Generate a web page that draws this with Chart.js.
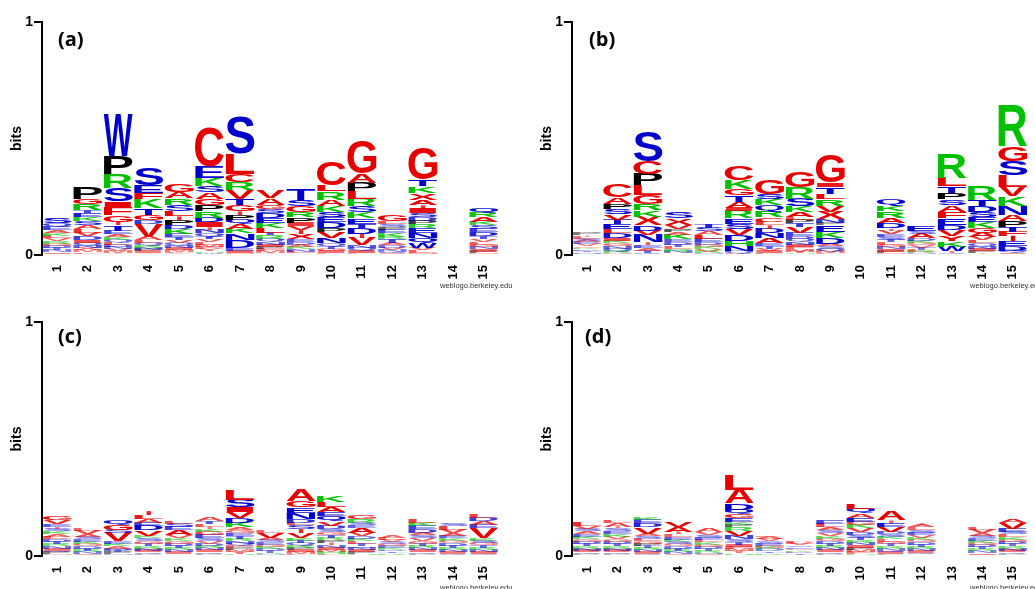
<!DOCTYPE html>
<html><head><meta charset="utf-8">
<script src="https://cdn.jsdelivr.net/npm/chart.js@4.4.1/dist/chart.umd.min.js"></script>
<style>
html,body{margin:0;padding:0;background:#fff;width:1035px;height:589px;overflow:hidden;position:relative;}
canvas{position:absolute;}
.lbl{position:absolute;font:bold 20px "Open Sans",sans-serif;line-height:20px;color:#000;}
.wl{position:absolute;font:7.5px "Liberation Sans",Arial,sans-serif;line-height:7.5px;color:#333;white-space:nowrap;}
</style></head><body>
<canvas id="ca" width="517" height="296" style="left:0;top:0"></canvas>
<canvas id="cb" width="520" height="296" style="left:515px;top:0"></canvas>
<canvas id="cc" width="517" height="293" style="left:0;top:296px"></canvas>
<canvas id="cd" width="520" height="293" style="left:515px;top:296px"></canvas>
<div class="lbl" style="left:58px;top:29px">(a)</div>
<div class="lbl" style="left:589px;top:29px">(b)</div>
<div class="lbl" style="left:58px;top:326px">(c)</div>
<div class="lbl" style="left:585px;top:326px">(d)</div>
<div class="wl" style="left:440px;top:282px">weblogo.berkeley.edu</div>
<div class="wl" style="left:970px;top:282px">weblogo.berkeley.edu</div>
<div class="wl" style="left:440px;top:584px">weblogo.berkeley.edu</div>
<div class="wl" style="left:970px;top:584px">weblogo.berkeley.edu</div>
<script>
// ---- data (letters listed top -> bottom, heights in bits, same order) ----
const positions = ['1','2','3','4','5','6','7','8','9','10','11','12','13','14','15'];
const yTicks = [0, 1];

const lettersA = ['SQEAKLVRGDTNIP','PGRTEKSALVDIQNXMFY','WPRSIFG.TEAKQLDNVMY','SEFKTGDVALQRNPIY','GARSL.PDKETVQNIMFY',
  'CEKSAGPRDI.NQTVLMFYHW','SLCRVTG.PQAKNDEIM','VAGSDEKLTRQNIPFMY','TSGRPIV.XEDAKNLQ','CLRAKSEDPVNQTGIF',
  'GAPLRSKETD.VNQIF','GLSPEKRTADVNQI','GTKXA.ISDPRENQWVLM','','QRAKSEDTVLGNIPM'];
const bitsA = [
  [.022,.014,.014,.013,.012,.012,.011,.011,.010,.010,.009,.008,.007,.005],
  [.049,.022,.026,.013,.018,.017,.018,.016,.016,.015,.014,.013,.012,.011,.010,.008,.007,.005],
  [.18,.08,.058,.058,.026,.032,.028,.016,.022,.014,.013,.012,.011,.011,.010,.009,.009,.008,.008],
  [.075,.034,.027,.036,.03,.024,.015,.055,.014,.012,.011,.010,.009,.008,.008,.007],
  [.032,.029,.028,.025,.022,.016,.022,.018,.02,.014,.013,.012,.011,.01,.009,.008,.007,.008],
  [.168,.05,.031,.03,.027,.027,.027,.027,.02,.019,.012,.015,.014,.013,.012,.011,.01,.009,.008,.007,.01],
  [.158,.088,.033,.035,.037,.027,.027,.015,.022,.02,.019,.019,.028,.035,.012,.01,.008],
  [.033,.028,.018,.019,.021,.02,.022,.02,.012,.014,.013,.012,.011,.01,.009,.008,.007],
  [.048,.025,.025,.021,.023,.015,.018,.017,.021,.012,.011,.011,.01,.009,.008,.007],
  [.1,.025,.035,.027,.027,.022,.019,.026,.017,.029,.021,.012,.011,.01,.009,.008],
  [.142,.041,.038,.03,.03,.03,.025,.022,.018,.026,.017,.033,.012,.011,.01,.008],
  [.03,.012,.012,.011,.014,.016,.012,.014,.011,.01,.009,.008,.008,.007],
  [.137,.03,.03,.027,.023,.016,.019,.018,.015,.015,.017,.019,.021,.021,.021,.012,.011,.009],
  [],
  [.02,.019,.019,.015,.015,.015,.017,.012,.012,.011,.011,.01,.009,.008,.007]
];

const lettersB = ['P.LSAEVGKDTNR','CAPSVTELDIKGNQRM','SCPLGRKXDVN.EATQ','SXVPAKEDTLRNQ','TSALEDGKVRN',
  'CKGTAIRESVDHNQL','GSKQRCL.DNAETVIP','GRSKALPTVEDQNIFMYH','GITLRVXNPEKDASQMF','',
  'QKRAD.VESTLGNIPM','ESADKGVTLRN','RLTPSAFEDVYKW.Q','RTDSEKGAVLQNIP.','RGSLVKNAPTF.EDQI'];
const bitsB = [
  [.008,.006,.009,.008,.008,.008,.008,.007,.007,.007,.006,.006,.005],
  [.056,.03,.021,.022,.022,.019,.021,.018,.019,.013,.012,.012,.011,.01,.009,.008],
  [.128,.055,.047,.044,.038,.027,.027,.038,.022,.019,.032,.012,.012,.011,.01,.009],
  [.027,.029,.018,.012,.012,.02,.012,.011,.01,.01,.009,.008,.007],
  [.017,.017,.014,.018,.014,.011,.01,.01,.009,.008,.007],
  [.063,.037,.027,.03,.025,.016,.03,.022,.022,.026,.025,.022,.022,.01,.008],
  [.063,.022,.026,.025,.026,.019,.015,.015,.019,.022,.022,.012,.011,.01,.009,.008],
  [.068,.047,.034,.025,.021,.012,.014,.015,.025,.014,.013,.012,.012,.011,.01,.009,.008,.007],
  [.116,.018,.03,.022,.029,.025,.032,.015,.01,.029,.026,.025,.012,.011,.01,.008,.008],
  [],
  [.029,.023,.029,.022,.023,.01,.014,.012,.012,.011,.011,.01,.01,.009,.008,.007],
  [.023,.013,.019,.011,.01,.01,.009,.009,.008,.008,.007],
  [.104,.036,.029,.029,.024,.029,.026,.029,.022,.026,.024,.022,.02,.008,.008],
  [.058,.025,.025,.023,.022,.025,.02,.019,.014,.013,.012,.011,.01,.009,.008],
  [.173,.063,.063,.048,.041,.041,.038,.026,.026,.022,.019,.022,.02,.019,.01,.009]
];

const lettersC = ['GVE.SKALDTRNIQPM','LVASEKGDTRNI','QGSVEKADTPN','.LAEDVKSGTRNIQP','LSEAVKGDTRNIQ',
  'ATL.KGESVDRNIQP','LSIVDKAGETRNQFPMYH','LVASEGKDTRN','AGENDLS.VKTQRPIMF','KLAEQVDSGTRP.NIMHF',
  'GRSEAVDKLTQNIPH','ALVSGEKDTRN','LKEDASVGTRNIQP','SLVAEKGDTRNIQ','LDAEVKSGTRNIQ'];
const bitsC = [
  [.019,.017,.012,.008,.012,.012,.011,.011,.01,.01,.01,.009,.009,.008,.008,.007],
  [.01,.014,.012,.011,.01,.01,.01,.009,.009,.008,.008,.007],
  [.018,.02,.014,.035,.011,.01,.01,.009,.008,.008,.007],
  [.017,.018,.016,.014,.02,.024,.01,.012,.011,.01,.01,.009,.008,.008,.007],
  [.012,.014,.014,.021,.013,.011,.011,.01,.01,.009,.009,.008,.007],
  [.014,.012,.012,.009,.011,.014,.014,.012,.011,.01,.01,.009,.009,.008,.007],
  [.042,.032,.021,.026,.019,.019,.012,.013,.012,.012,.011,.01,.01,.009,.008,.008,.01,.008],
  [.01,.021,.011,.01,.01,.009,.009,.008,.008,.007,.007],
  [.048,.028,.022,.026,.016,.012,.017,.017,.019,.012,.011,.011,.01,.009,.009,.008,.008],
  [.029,.02,.023,.018,.022,.018,.014,.013,.012,.012,.011,.011,.01,.01,.009,.008,.01,.009],
  [.017,.014,.012,.011,.021,.014,.011,.011,.01,.01,.009,.009,.009,.008,.008],
  [.01,.009,.009,.008,.008,.008,.008,.007,.007,.007,.006],
  [.014,.014,.014,.014,.012,.012,.012,.011,.01,.01,.009,.009,.008,.007],
  [.012,.014,.014,.012,.011,.011,.01,.01,.01,.009,.009,.008,.008],
  [.014,.014,.016,.014,.043,.011,.011,.01,.01,.009,.009,.009,.008]
];

const lettersD = ['LVSAEKGDTRNIQP','LA.SEKVGDTRNIQP','KEDVASLGPTRNIQ','VA.LEKSGDTRNI','AVSELKGDTRNI',
  'LADQGEKPRVNSTIFMYHW','LAVSEGKDTRN','ALVSEGKDTR','ELASVKGDTRNIQP','LQAEGKVDSTRNIPMFH',
  'A.EVDSKLGTRNQIP','.ALSEVKGDTRNIQP','','LVASEKGDTRNIQ','AVESLKGDTRNIQP'];
const bitsD = [
  [.016,.013,.012,.012,.011,.011,.01,.01,.01,.009,.009,.008,.008,.007],
  [.012,.014,.008,.012,.012,.012,.011,.01,.01,.01,.009,.009,.008,.008,.007],
  [.012,.014,.017,.028,.011,.011,.011,.01,.01,.009,.009,.009,.008,.008],
  [.02,.02,.01,.011,.011,.01,.01,.009,.009,.009,.008,.008,.007],
  [.014,.012,.011,.01,.01,.01,.009,.009,.008,.008,.007,.007],
  [.064,.058,.028,.019,.017,.018,.011,.011,.014,.023,.014,.012,.011,.01,.009,.008,.008,.007,.006],
  [.006,.01,.01,.009,.009,.008,.008,.008,.007,.007,.006],
  [.004,.008,.008,.007,.007,.007,.007,.006,.006,.005],
  [.014,.014,.013,.012,.012,.011,.011,.01,.01,.01,.009,.009,.008,.007],
  [.021,.018,.018,.018,.014,.014,.015,.013,.012,.011,.011,.011,.01,.01,.009,.008,.008],
  [.036,.011,.018,.021,.011,.011,.011,.01,.01,.01,.009,.009,.008,.008,.007],
  [.008,.012,.011,.011,.011,.011,.01,.01,.01,.009,.009,.009,.008,.007,.006],
  [],
  [.011,.014,.011,.01,.01,.01,.009,.009,.009,.008,.008,.007,.006],
  [.018,.025,.014,.011,.011,.011,.01,.01,.009,.009,.009,.008,.008,.007]
];

// ---- colours ----
const RED = '#e60000', BLUE = '#0000cc', GREEN = '#00c000', BLACK = '#000000';
function letterColor(ch){
  if ('STWEDNQ'.includes(ch)) return BLUE;
  if ('RKH'.includes(ch)) return GREEN;
  if (ch === 'P') return BLACK;
  return RED;
}

// ---- build stacked datasets: dataset k = k-th letter from the bottom ----
function buildDatasets(letters, bits){
  const depth = Math.max(...letters.map(s => s.length));
  const ds = [];
  for (let k = 0; k < depth; k++){
    const data = [], lets = [];
    letters.forEach((s, i) => {
      const idx = s.length - 1 - k;
      if (idx >= 0 && bits[i][idx] != null){ data.push(bits[i][idx]); lets.push(s[idx]); }
      else { data.push(0); lets.push(''); }
    });
    ds.push({data, letters: lets, backgroundColor: 'rgba(0,0,0,0)', borderWidth: 0,
             barPercentage: 0.95, categoryPercentage: 1});
  }
  return ds;
}

// ---- plugin: draw each letter stretched into its bar rectangle ----
const FONT = 'bold 100px "Liberation Sans", Arial, sans-serif';
const mcache = {};
function glyph(ctx, ch){
  if (!mcache[ch]){
    ctx.save(); ctx.font = FONT;
    const m = ctx.measureText(ch);
    mcache[ch] = {l: m.actualBoundingBoxLeft, r: m.actualBoundingBoxRight,
                  a: m.actualBoundingBoxAscent, d: m.actualBoundingBoxDescent};
    ctx.restore();
  }
  return mcache[ch];
}
const logoPlugin = {
  id: 'logoLetters',
  afterDatasetsDraw(chart){
    const ctx = chart.ctx;
    chart.data.datasets.forEach((ds, i) => {
      const meta = chart.getDatasetMeta(i);
      meta.data.forEach((el, j) => {
        const ch = ds.letters[j];
        if (!ch) return;
        const p = el.getProps(['x','y','base','width'], true);
        const h = p.base - p.y;
        if (h <= 0.05) return;
        const m = glyph(ctx, ch);
        const gw = m.l + m.r, gh = m.a + m.d;
        let w = p.width;
        if (ch === '.') w = p.width * 0.16;
        ctx.save();
        // very thin letters render pale, as in the downsampled original
        ctx.globalAlpha = Math.min(1, 0.2 + h / 6);
        ctx.translate(p.x - w / 2, p.y);
        ctx.scale(w / gw, h / gh);
        ctx.font = FONT;
        ctx.textAlign = 'left';
        ctx.textBaseline = 'alphabetic';
        ctx.fillStyle = letterColor(ch);
        ctx.fillText(ch, m.l, m.a);
        ctx.restore();
      });
    });
  }
};

Chart.defaults.font.family = '"Liberation Sans", Arial, sans-serif';

function makeChart(id, letters, bits, pad, xHeight){
  return new Chart(document.getElementById(id), {
    type: 'bar',
    data: {labels: positions, datasets: buildDatasets(letters, bits)},
    plugins: [logoPlugin],
    options: {
      responsive: false, animation: false, devicePixelRatio: 1,
      layout: {padding: pad},
      plugins: {legend: {display: false}, tooltip: {enabled: false}, title: {display: false}},
      scales: {
        x: {
          stacked: true, offset: true,
          grid: {display: false}, border: {display: false},
          ticks: {autoSkip: false, minRotation: 90, maxRotation: 90, padding: 2,
                  color: '#000', font: {size: 13, weight: 'bold'}},
          afterFit: s => { s.height = xHeight; }
        },
        y: {
          stacked: true, min: yTicks[0], max: yTicks[yTicks.length - 1],
          afterBuildTicks: s => { s.ticks = yTicks.map(v => ({value: v})); },
          grid: {display: true, drawOnChartArea: false, drawTicks: true, tickLength: 8,
                 color: '#000', lineWidth: 2},
          border: {display: true, color: '#000', width: 2},
          ticks: {padding: 1, color: '#000', font: {size: 14, weight: 'bold'}},
          title: {display: true, text: 'bits', color: '#000',
                  font: {size: 14, weight: 'bold'}, padding: {top: 9, bottom: 0}},
          afterFit: s => { s.width = 42; }
        }
      }
    }
  });
}

makeChart('ca', lettersA, bitsA, {left: 0, top: 22, right: 18, bottom: 0}, 41);
makeChart('cb', lettersB, bitsB, {left: 15, top: 22, right: 7, bottom: 0}, 41);
makeChart('cc', lettersC, bitsC, {left: 0, top: 26, right: 18, bottom: 0}, 33);
makeChart('cd', lettersD, bitsD, {left: 15, top: 26, right: 7, bottom: 0}, 33);
</script>
</body></html>
